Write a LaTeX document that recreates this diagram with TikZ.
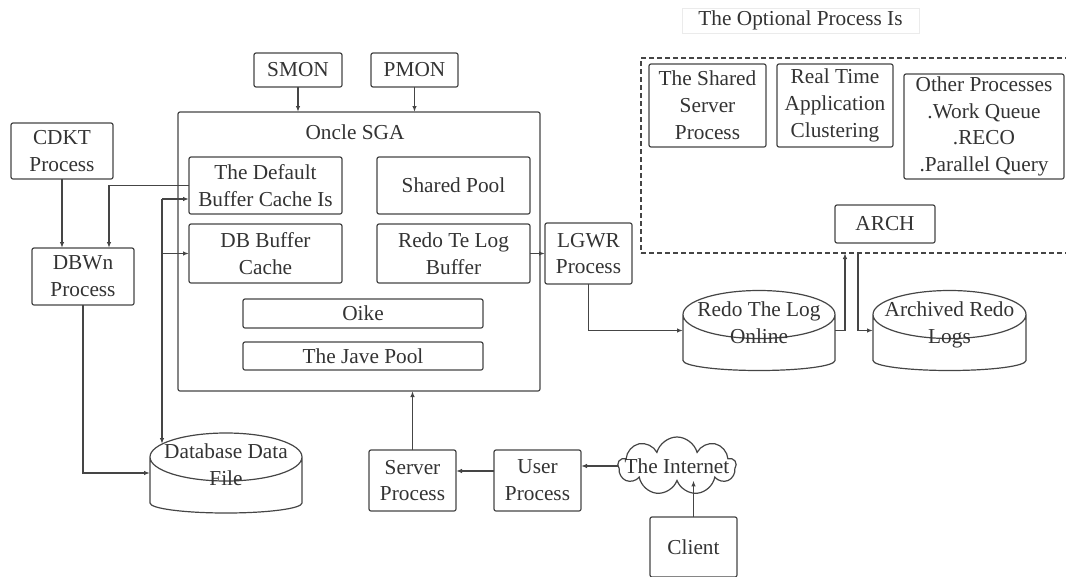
\documentclass[tikz,border=0pt]{standalone}
\usepackage{fontspec}
\setmainfont{Liberation Serif}
\usetikzlibrary{shapes.symbols,arrows.meta,calc}
\definecolor{ink}{HTML}{454545}
\definecolor{txt}{HTML}{333333}

\begin{document}
\begin{tikzpicture}
  [
    x=1pt, y=-1pt,
    font=\fontsize{21.3}{26.8}\selectfont,
    every node/.style={text=txt, align=center, inner sep=0pt, outer sep=0pt},
    box/.style =
      {draw=ink, line width=1.2pt, rounded corners=2pt},
    grp/.style =
      {draw=ink, line width=1.2pt, dash pattern=on 5pt off 3pt},
    disk/.style =
      {minimum width=#1, minimum height=80pt, text height=42pt, text depth=17pt,
       append after command={\pgfextra{
         \draw [ink, line width=1.2pt]
           ([yshift=-24pt]\tikzlastnode.north west) -- ([yshift=10pt]\tikzlastnode.south west)
           arc [start angle=180, end angle=360, x radius=#1/2, y radius=10pt]
           -- ([yshift=-24pt]\tikzlastnode.north east)
           ([yshift=-24pt]\tikzlastnode.north) ellipse [x radius=#1/2, y radius=24pt];}}},
    link/.style =
      {draw=ink, line width=1.2pt, -{Latex[length=6pt,width=4.5pt]}}
  ]
  \useasboundingbox (0,0) rectangle (1066,576);
  \clip (0,0) rectangle (1066,576);

  \node [box, minimum width=102pt, minimum height=56pt] at (62,151) (cdkt) {CDKT\\Process};
  \node [box, minimum width=102pt, minimum height=57pt] at (83,276.5) (dbwn) {DBWn\\Process};
  \node [box, minimum width=88pt, minimum height=34pt] at (298,70) (smon) {SMON};
  \node [box, minimum width=87pt, minimum height=34pt] at (414.5,70) (pmon) {PMON};

  \node [box, minimum width=362pt, minimum height=279pt] at (359,251.5) (sga) {};
  \node at (355,132) (sgat) {Oncle SGA};
  \node [box, minimum width=153pt, minimum height=57pt] at (265.5,185.5) (dbc) {The Default\\Buffer Cache Is};
  \node [box, minimum width=153pt, minimum height=57pt] at (453.5,185.5) (shp) {Shared Pool};
  \node [box, minimum width=153pt, minimum height=59pt] at (265.5,253.5) (dbb) {DB Buffer\\Cache};
  \node [box, minimum width=153pt, minimum height=59pt] at (453.5,253.5) (rlb) {Redo Te Log\\Buffer};
  \node [box, minimum width=240pt, minimum height=29pt] at (363,313.5) (oike) {Oike};
  \node [box, minimum width=240pt, minimum height=28pt] at (363,356) (jave) {The Jave Pool};

  \node [box, minimum width=87pt, minimum height=61pt] at (588.5,253.5) (lgwr) {LGWR\\Process};
  \node [disk=152pt] at (226,473) (dbf) {Database Data\\File};
  \node [disk=152pt] at (759,330.5) (online) {Redo The Log\\Online};
  \node [disk=153pt] at (949.5,330.5) (arcd) {Archived Redo\\Logs};

  \node [draw=black!8, minimum width=237pt, minimum height=25pt] at (800.5,20.5) (optt) {The Optional Process Is};
  \node [grp, minimum width=429pt, minimum height=195pt] at (855.5,155.5) (opt) {};
  \node [box, minimum width=117pt, minimum height=83pt] at (707.5,105.5) (sss) {The Shared\\Server\\Process};
  \node [box, minimum width=116pt, minimum height=83pt] at (835,105.5) (rac) {Real Time\\Application\\Clustering};
  \node [box, minimum width=160pt, minimum height=105pt] at (984,126.5) (oth) {Other Processes\\.Work Queue\\.RECO\\.Parallel Query};
  \node [box, minimum width=100pt, minimum height=38pt] at (885,224) (arch) {ARCH};

  \node [box, minimum width=87pt, minimum height=61pt] at (412.5,480.5) (srv) {Server\\Process};
  \node [box, minimum width=87pt, minimum height=61pt] at (537.5,480.5) (usr) {User\\Process};
  \node [cloud, cloud puffs=9, draw=ink, line width=1.2pt, minimum width=118pt, minimum height=58pt]
    at (677,466) (web) {\makebox[0pt]{The Internet}};
  \node [box, minimum width=87pt, minimum height=60pt] at (693.5,547) (cli) {Client};

  \coordinate (bus) at (162,199);

  \draw [link] (cdkt.south) -- (cdkt.south |- dbwn.north);
  \draw [link] (dbc.west) -| ([xshift=26pt]dbwn.north);
  \draw [link] (bus) -- (bus -| dbc.west);
  \draw [link] (bus) |- (dbb.west);
  \draw [link] (bus) -- ([yshift=-11pt]bus |- dbf.north);
  \draw [link] (dbwn.south) |- (dbf.west);

  \draw [link] (smon.south) -- (smon.south |- sga.north);
  \draw [link] (pmon.south) -- (pmon.south |- sga.north);
  \draw [link] (rlb.east) -- (lgwr.west);
  \draw [link] (lgwr.south) |- (online.west);
  \draw [link] (online.east) -| ([xshift=10pt]arch.west |- opt.south);
  \draw [link] ([xshift=23pt]arch.west |- opt.south) |- (arcd.west);

  \draw [link] (srv.north) -- (srv.north |- sga.south);
  \draw [link] ([yshift=9.5pt]usr.west) -- ([yshift=9.5pt]srv.east);
  \draw [link] (web.west) -- (web.west -| usr.east);
  \draw [link] (cli.north) -- (cli.north |- web.south);

\end{tikzpicture}
\end{document}
